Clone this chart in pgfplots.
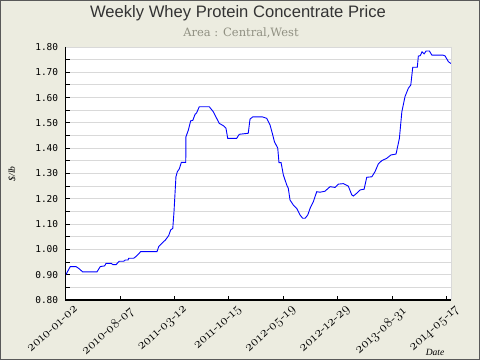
\documentclass[border=0pt]{standalone}
\usepackage{fontspec}
\usepackage{pgfplots}
\pgfplotsset{compat=1.18}
\setmainfont{Liberation Serif}
\newfontfamily\titlefont{Liberation Sans}
\newfontfamily\subfont{DejaVu Serif}
\newfontfamily\monofont{DejaVu Sans Mono}
\newfontfamily\osf{Latin Modern Roman}[Numbers=OldStyle]
\definecolor{bgc}{HTML}{ECECE0}
\definecolor{gridc}{HTML}{D9D9D9}
\definecolor{subc}{HTML}{909082}
\definecolor{titc}{HTML}{333333}
\begin{document}
\begin{tikzpicture}
\fill[bgc] (0,0) rectangle (480bp,360bp);
\draw[black!65, line width=1bp] (0.5bp,0.5bp) rectangle (479.5bp,359.5bp);
\begin{axis}[
  anchor=south west, at={(65.7bp,60bp)},
  width=385.3bp, height=253bp, scale only axis,
  xmin=0, xmax=219.5, ymin=0.8, ymax=1.8,
  axis background/.style={fill=white},
  axis line style={draw=none},
  xtick={0,31,62,93,124,155,186,217},
  xticklabels={2010-01-02,2010-08-07,2011-03-12,2011-10-15,2012-05-19,2012-12-29,2013-08-31,2014-05-17},
  xticklabel style={rotate=42, anchor=north east, font=\osf\fontsize{13.5bp}{15bp}\selectfont, inner sep=1bp, yshift=-8bp, xshift=4bp},
  ytick={0.8,0.9,1.0,1.1,1.2,1.3,1.4,1.5,1.6,1.7,1.8},
  yticklabels={0.80,0.90,1.00,1.10,1.20,1.30,1.40,1.50,1.60,1.70,1.80},
  yticklabel style={font=\monofont\fontsize{9.5bp}{10bp}\selectfont, xshift=-4bp},
  minor y tick num=1,
  ymajorgrids, yminorgrids,
  major grid style={gridc, line width=0.9bp},
  minor grid style={gridc, line width=0.9bp},
  tick align=inside,
  major tick length=4bp, minor tick length=4bp,
  tick style={black, line width=0.9bp},
  xtick pos=bottom, ytick pos=left,
  clip=false,
]
\addplot[blue, line width=0.9bp] coordinates {
(0,0.899) (2.6,0.932) (5.9,0.932) (7.4,0.925) (9.7,0.911) (17.8,0.911)
(19.7,0.932) (22.2,0.935) (23.0,0.945) (26.0,0.945) (26.8,0.940) (28.7,0.940)
(30.5,0.953) (33.0,0.953) (34.0,0.958) (35.5,0.958) (35.9,0.965) (38.7,0.965)
(39.7,0.970) (41.2,0.980) (42.7,0.991) (52.0,0.991) (53.0,1.011) (54.9,1.025)
(56.8,1.037) (58.7,1.055) (59.8,1.077) (61.0,1.083) (61.7,1.149) (62.8,1.287)
(63.6,1.307) (64.7,1.318) (65.9,1.344) (68.4,1.344) (68.5,1.445) (69.9,1.472)
(71.2,1.508) (72.4,1.510) (73.7,1.534) (74.6,1.540) (76.1,1.564) (81.8,1.564)
(84.1,1.544) (86.0,1.518) (87.5,1.498) (89.8,1.489) (91.3,1.479) (92.3,1.439)
(97.4,1.439) (98.9,1.455) (104.0,1.459) (105.0,1.515) (106.6,1.524) (112.0,1.524)
(114.5,1.518) (116.4,1.492) (117.7,1.459) (118.9,1.426) (120.8,1.400) (121.5,1.343)
(122.7,1.343) (124.0,1.294) (125.9,1.255) (126.8,1.242) (127.8,1.195) (129.7,1.175)
(131.6,1.162) (133.5,1.136) (135.0,1.123) (136.4,1.123) (137.9,1.136) (139.2,1.162)
(141.1,1.189) (143.0,1.228) (144.9,1.226) (147.7,1.230) (150.6,1.248) (153.4,1.245)
(155.3,1.258) (158.2,1.260) (161.0,1.250) (163.0,1.215) (163.9,1.211) (165.8,1.222)
(167.7,1.235) (170.0,1.238) (171.5,1.285) (174.4,1.287) (176.2,1.307) (178.1,1.338)
(180.1,1.351) (182.9,1.360) (185.2,1.373) (188.2,1.377) (190.1,1.439) (191.5,1.544)
(193.3,1.604) (195.2,1.637) (196.6,1.650) (197.7,1.720) (200.3,1.720) (200.9,1.764)
(202.0,1.766) (203.0,1.781) (204.2,1.773) (205.3,1.784) (207.2,1.784) (208.6,1.768)
(214.8,1.768) (216.1,1.765) (218.0,1.742) (219.4,1.735)
};
\draw[gridc, line width=0.9bp] (rel axis cs:0,1) -- (rel axis cs:1,1) -- (rel axis cs:1,0);
\draw[black, line width=1.2bp] (rel axis cs:0,1) -- (rel axis cs:0,0) -- (rel axis cs:1,0);
\end{axis}
\node[anchor=base, text=titc, font=\titlefont\fontsize{16.6bp}{18bp}\selectfont] at (238bp,342.5bp) {Weekly Whey Protein Concentrate Price};
\node[anchor=base, text=subc, font=\subfont\fontsize{11.5bp}{13bp}\selectfont] at (241bp,323bp) {Area : Central,West};
\node[anchor=base, font=\itshape\fontsize{9.5bp}{11bp}\selectfont] at (435bp,4.3bp) {Date};
\node[rotate=90, font=\itshape\fontsize{9.5bp}{11bp}\selectfont] at (12bp,186bp) {\$/lb};
\pgfresetboundingbox
\path (0,0) rectangle (480bp,360bp);
\end{tikzpicture}
\end{document}
